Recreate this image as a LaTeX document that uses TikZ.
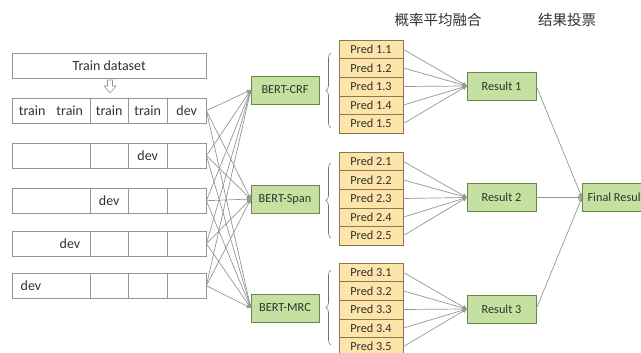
\documentclass[tikz,border=0pt]{standalone}
\usepackage{fontspec}
\setmainfont{Carlito}
\newfontfamily\cjk{Noto Sans CJK SC}
\usetikzlibrary{arrows.meta,decorations.pathreplacing}
\definecolor{greenfill}{RGB}{197,224,160}
\definecolor{greenborder}{RGB}{105,135,75}
\definecolor{predfill}{RGB}{252,228,170}
\definecolor{predborder}{RGB}{140,120,80}
\definecolor{linegray}{RGB}{150,150,150}
\definecolor{cellborder}{RGB}{150,150,150}
\definecolor{txt}{RGB}{50,50,50}
\begin{document}
\begin{tikzpicture}[x=1pt,y=-1pt,
  every node/.style={text=txt},
  cell/.style={draw=cellborder, fill=white, minimum height=25pt, inner sep=0pt, anchor=north west, font=\fontsize{14}{16}\selectfont},
  model/.style={draw=greenborder, fill=greenfill, minimum width=68pt, minimum height=28pt, inner sep=0pt, font=\fontsize{12.3}{14}\selectfont},
  pred/.style={draw=predborder, fill=predfill, minimum width=64pt, minimum height=18.6pt, inner sep=0pt, font=\fontsize{12.3}{14}\selectfont},
  conn/.style={draw=linegray, line width=0.7pt, -{Triangle[length=4pt,width=4pt]}},
  bracestyle/.style={draw=txt!70, line width=0.6pt, decorate, decoration={brace, amplitude=5pt}},
  header/.style={font=\cjk\fontsize{14.5}{16}\selectfont}
]
\useasboundingbox (0,0) rectangle (641,353);

% headers
\node[header] (h1) at (438,20) {概率平均融合};
\node[header] (h2) at (567,20) {结果投票};

% train dataset
\node[cell, minimum width=194pt] (td) at (12,53) {Train dataset};
\draw[draw=cellborder, fill=white, line width=0.6pt] (107.5,80) -- (112.5,80) -- (112.5,86) -- (116,86) -- (110,93) -- (104,86) -- (107.5,86) -- cycle;

% rows
\foreach \r/\y in {1/98,2/143,3/188,4/231,5/273}{
  \node[cell, minimum width=78pt] (r\r a) at (12,\y) {};
  \node[cell, minimum width=38pt] (r\r b) at (90,\y) {};
  \node[cell, minimum width=39pt] (r\r c) at (128,\y) {};
  \node[cell, minimum width=39pt] (r\r d) at (167,\y) {};
}
\node[font=\fontsize{14}{16}\selectfont] (t1) at (51,110.5) {train\hspace{11pt}train};
\node[font=\fontsize{14}{16}\selectfont] (t2) at (r1b.center) {train};
\node[font=\fontsize{14}{16}\selectfont] (t3) at (r1c.center) {train};
\node[font=\fontsize{14}{16}\selectfont] (t4) at (r1d.center) {dev};
\node[font=\fontsize{14}{16}\selectfont] (t5) at (r2c.center) {dev};
\node[font=\fontsize{14}{16}\selectfont] (t6) at (r3b.center) {dev};
\node[font=\fontsize{14}{16}\selectfont] (t7) at (70,243.5) {dev};
\node[font=\fontsize{14}{16}\selectfont] (t8) at (31,285.5) {dev};

% models
\node[model] (m1) at (285,90) {BERT-CRF};
\node[model] (m2) at (285,199) {BERT-Span};
\node[model] (m3) at (285,308) {BERT-MRC};

\foreach \r in {1,...,5}{
  \foreach \m in {1,2,3}{
    \draw[conn] (r\r d.east) -- (m\m.west);
  }
}

% results
\node[model, minimum width=69pt] (res1) at (501.5,86) {Result 1};
\node[model, minimum width=69pt] (res2) at (501.5,197.5) {Result 2};
\node[model, minimum width=69pt] (res3) at (501.5,309) {Result 3};
\node[model, anchor=west, inner xsep=5pt] (fin) at (582,197.5) {Final Result};

% preds
\foreach \g/\top in {1/40,2/152,3/263}{
  \foreach \k in {1,...,5}{
    \node[pred] (p\g\k) at (371,{\top+9.3+18.6*(\k-1)}) {Pred \g.\k};
    \draw[conn] (p\g\k.east) -- (res\g.west);
  }
}

% braces
\draw[bracestyle] (331,128) -- (331,53);
\draw[bracestyle] (331,238) -- (331,163);
\draw[bracestyle] (331,345) -- (331,270);

\foreach \g in {1,2,3}{
  \draw[conn] (res\g.east) -- (fin.west);
}
\end{tikzpicture}
\end{document}
